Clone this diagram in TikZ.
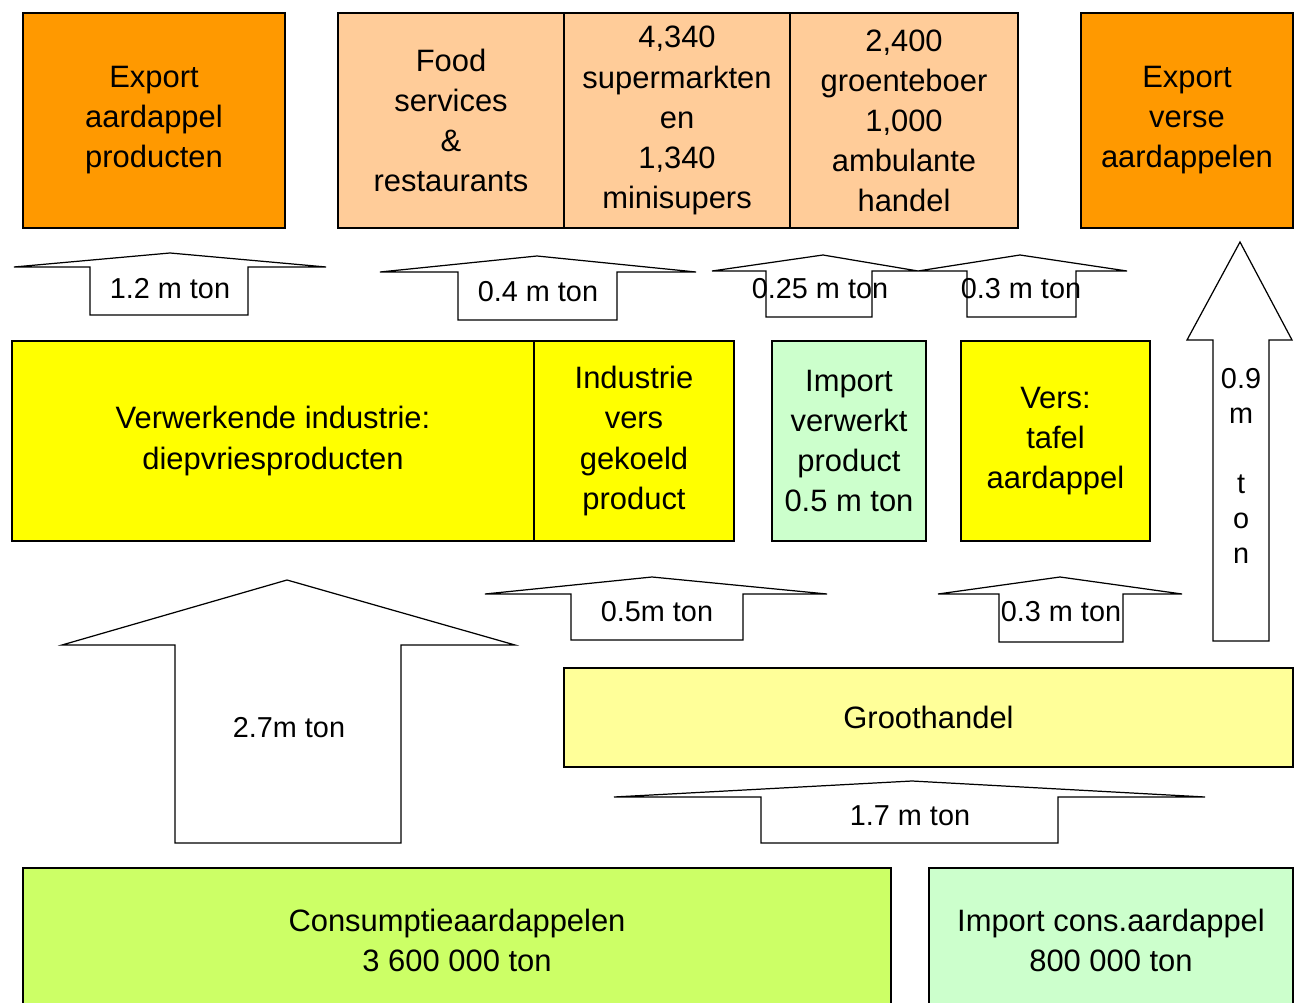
\documentclass[tikz,border=0pt]{standalone}
\usepackage{fontspec}
\setmainfont{Liberation Sans}
\usepackage{tikz}
\definecolor{exportorange}{HTML}{FF9900}
\definecolor{retailpeach}{HTML}{FFCC99}
\definecolor{processyellow}{HTML}{FFFF00}
\definecolor{importgreen}{HTML}{CCFFCC}
\definecolor{wholesaleyellow}{HTML}{FFFF99}
\definecolor{consumegreen}{HTML}{CCFF66}
\tikzstyle{box} = [draw, line width=0.9pt, inner sep=0pt, align=center, font=\fontsize{17.6}{22.8}\selectfont]
\tikzstyle{flow} = [draw, fill=white, line width=0.7pt, line join=miter]
\tikzstyle{flowlabel} = [inner sep=0pt, align=center, font=\fontsize{16.4}{19.9}\selectfont]

\begin{document}
\begin{tikzpicture}[x=0.02cm, y=-0.02cm]
        \useasboundingbox (0,0) rectangle (1295,1003);
        \clip (0,0) rectangle (1295,1003);

        \node[box, fill=exportorange, minimum width=5.24cm, minimum height=4.3cm] at (154,120.5) (exportprod) {Export\\aardappel\\producten};
        \node[box, fill=retailpeach, minimum width=4.52cm, minimum height=4.3cm] at (451,120.5) (food) {Food\\services\\\&\\restaurants};
        \node[box, fill=retailpeach, minimum width=4.52cm, minimum height=4.3cm] at (677,120.5) (super) {4,340\\supermarkten\\en\\1,340\\minisupers};
        \node[box, fill=retailpeach, minimum width=4.56cm, minimum height=4.3cm] at (904,120.5) (groente) {2,400\\groenteboer\\1,000\\ambulante\\handel};
        \node[box, fill=exportorange, minimum width=4.24cm, minimum height=4.3cm] at (1187,120.5) (exportvers) {Export\\verse\\aardappelen};

        \node[box, fill=processyellow, minimum width=10.44cm, minimum height=4cm] at (273,441) (verwerk) {Verwerkende industrie:\\diepvriesproducten};
        \node[box, fill=processyellow, minimum width=4cm, minimum height=4cm] at (634,441) (indvers) {Industrie\\vers\\gekoeld\\product};
        \node[box, fill=importgreen, minimum width=3.08cm, minimum height=4cm] at (849,441) (impverw) {Import\\verwerkt\\product\\0.5 m ton};
        \node[box, fill=processyellow, minimum width=3.78cm, minimum height=4cm] at (1055.5,441) (tafel) {Vers:\\tafel\\aardappel};

        \node[box, fill=wholesaleyellow, minimum width=14.58cm, minimum height=1.98cm] at (928.5,717.5) (groot) {Groothandel};
        \node[box, fill=consumegreen, minimum width=17.36cm, minimum height=2.88cm] at (457,940) (consum) {Consumptieaardappelen\\3 600 000 ton};
        \node[box, fill=importgreen, minimum width=7.28cm, minimum height=2.88cm] at (1111,940) (impcons) {Import cons.aardappel\\800 000 ton};

        \draw[flow] (14,267) -- (170,253) -- (326,267) -- (248,267) -- (248,315) -- (90,315) -- (90,267) -- cycle;
        \draw[flow] (380,272) -- (537,256) -- (696,272) -- (617,272) -- (617,320) -- (458,320) -- (458,272) -- cycle;
        \draw[flow] (712,271) -- (823,255) -- (918,271) -- (872,271) -- (872,317) -- (766,317) -- (766,271) -- cycle;
        \draw[flow] (918,271) -- (1020,255) -- (1127,271) -- (1076,271) -- (1076,317) -- (967,317) -- (967,271) -- cycle;
        \draw[flow] (1213,641) -- (1213,340) -- (1187,340) -- (1240,242) -- (1292,340) -- (1269,340) -- (1269,641) -- cycle;
        \draw[flow] (485,594) -- (652,577) -- (827,594) -- (743,594) -- (743,640) -- (571,640) -- (571,594) -- cycle;
        \draw[flow] (938,594) -- (1060,577) -- (1182,594) -- (1123,594) -- (1123,642) -- (999,642) -- (999,594) -- cycle;
        \draw[flow] (62,645) -- (287,580) -- (515,645) -- (401,645) -- (401,843) -- (175,843) -- (175,645) -- cycle;
        \draw[flow] (614,797) -- (912,781) -- (1205,797) -- (1058,797) -- (1058,843) -- (761,843) -- (761,797) -- cycle;

        \node[flowlabel] at (170,289) (f12) {1.2 m ton};
        \node[flowlabel] at (538,292) (f04) {0.4 m ton};
        \node[flowlabel] at (820,289) (f025) {0.25 m ton};
        \node[flowlabel] at (1021,289) (f03top) {0.3 m ton};
        \node[flowlabel] at (1241,466) (f09) {0.9\\m\\[19.9pt]t\\o\\n};
        \node[flowlabel] at (657,612) (f05) {0.5m ton};
        \node[flowlabel] at (1061,612) (f03low) {0.3 m ton};
        \node[flowlabel] at (289,728) (f27) {2.7m ton};
        \node[flowlabel] at (910,816) (f17) {1.7 m ton};
\end{tikzpicture}
\end{document}
